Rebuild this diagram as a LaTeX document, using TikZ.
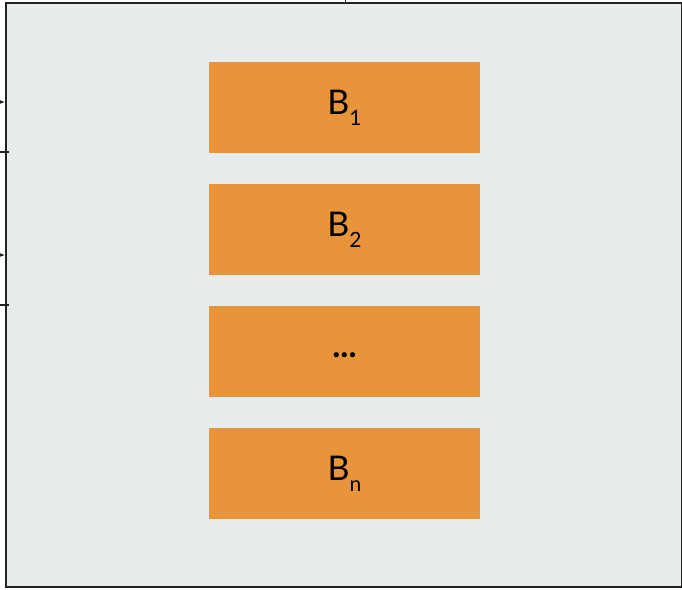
\documentclass[tikz,border=0pt]{standalone}
\usepackage{fontspec}
\setmainfont{Lato}
\usetikzlibrary{arrows.meta}
\definecolor{bgc}{HTML}{E8ECED}
\definecolor{orc}{HTML}{E8943A}
\definecolor{edgec}{HTML}{222222}
\tikzset{
  blk/.style={fill=orc, draw=none, minimum width=271pt, minimum height=91pt, inner sep=0pt, font=\fontsize{34}{34}\selectfont},
  conn/.style={draw=edgec, line width=1.2pt},
}
\newcommand{\sbs}[1]{\raisebox{-11pt}{\fontsize{21}{21}\selectfont #1}}
\begin{document}
\begin{tikzpicture}[x=1pt,y=-1pt]
\useasboundingbox (0,0) rectangle (682,589);
\node[fill=bgc, draw=edgec, line width=1.8pt, minimum width=676pt, minimum height=584pt, inner sep=0pt, anchor=north west] (outer) at (5,2) {};
\node[blk] (b1) at (344.5,107.5) {B\sbs{1}};
\node[blk] (b2) at (344.5,229.5) {B\sbs{2}};
\node[blk] (b3) at (344.5,351.5) {\raisebox{-6pt}[0pt][0pt]{\textbf{...}}};
\node[blk] (bn) at (344.5,473.5) {B\sbs{n}};
\coordinate (a1s) at (-10,102);
\coordinate (a1e) at (5,102);
\coordinate (a2s) at (-10,255);
\coordinate (a2e) at (5,255);
\coordinate (t1s) at (-10,152);
\coordinate (t1e) at (9,152);
\coordinate (t2s) at (-10,305);
\coordinate (t2e) at (9,305);
\coordinate (tops) at (345,-10);
\coordinate (tope) at (345,2);
\draw[conn, -{Latex[length=8pt,width=7pt]}] (a1s) -- (a1e);
\draw[conn, -{Latex[length=8pt,width=7pt]}] (a2s) -- (a2e);
\draw[conn] (t1s) -- (t1e);
\draw[conn] (t2s) -- (t2e);
\draw[conn, line width=0.8pt] (tops) -- (tope);
\end{tikzpicture}
\end{document}
